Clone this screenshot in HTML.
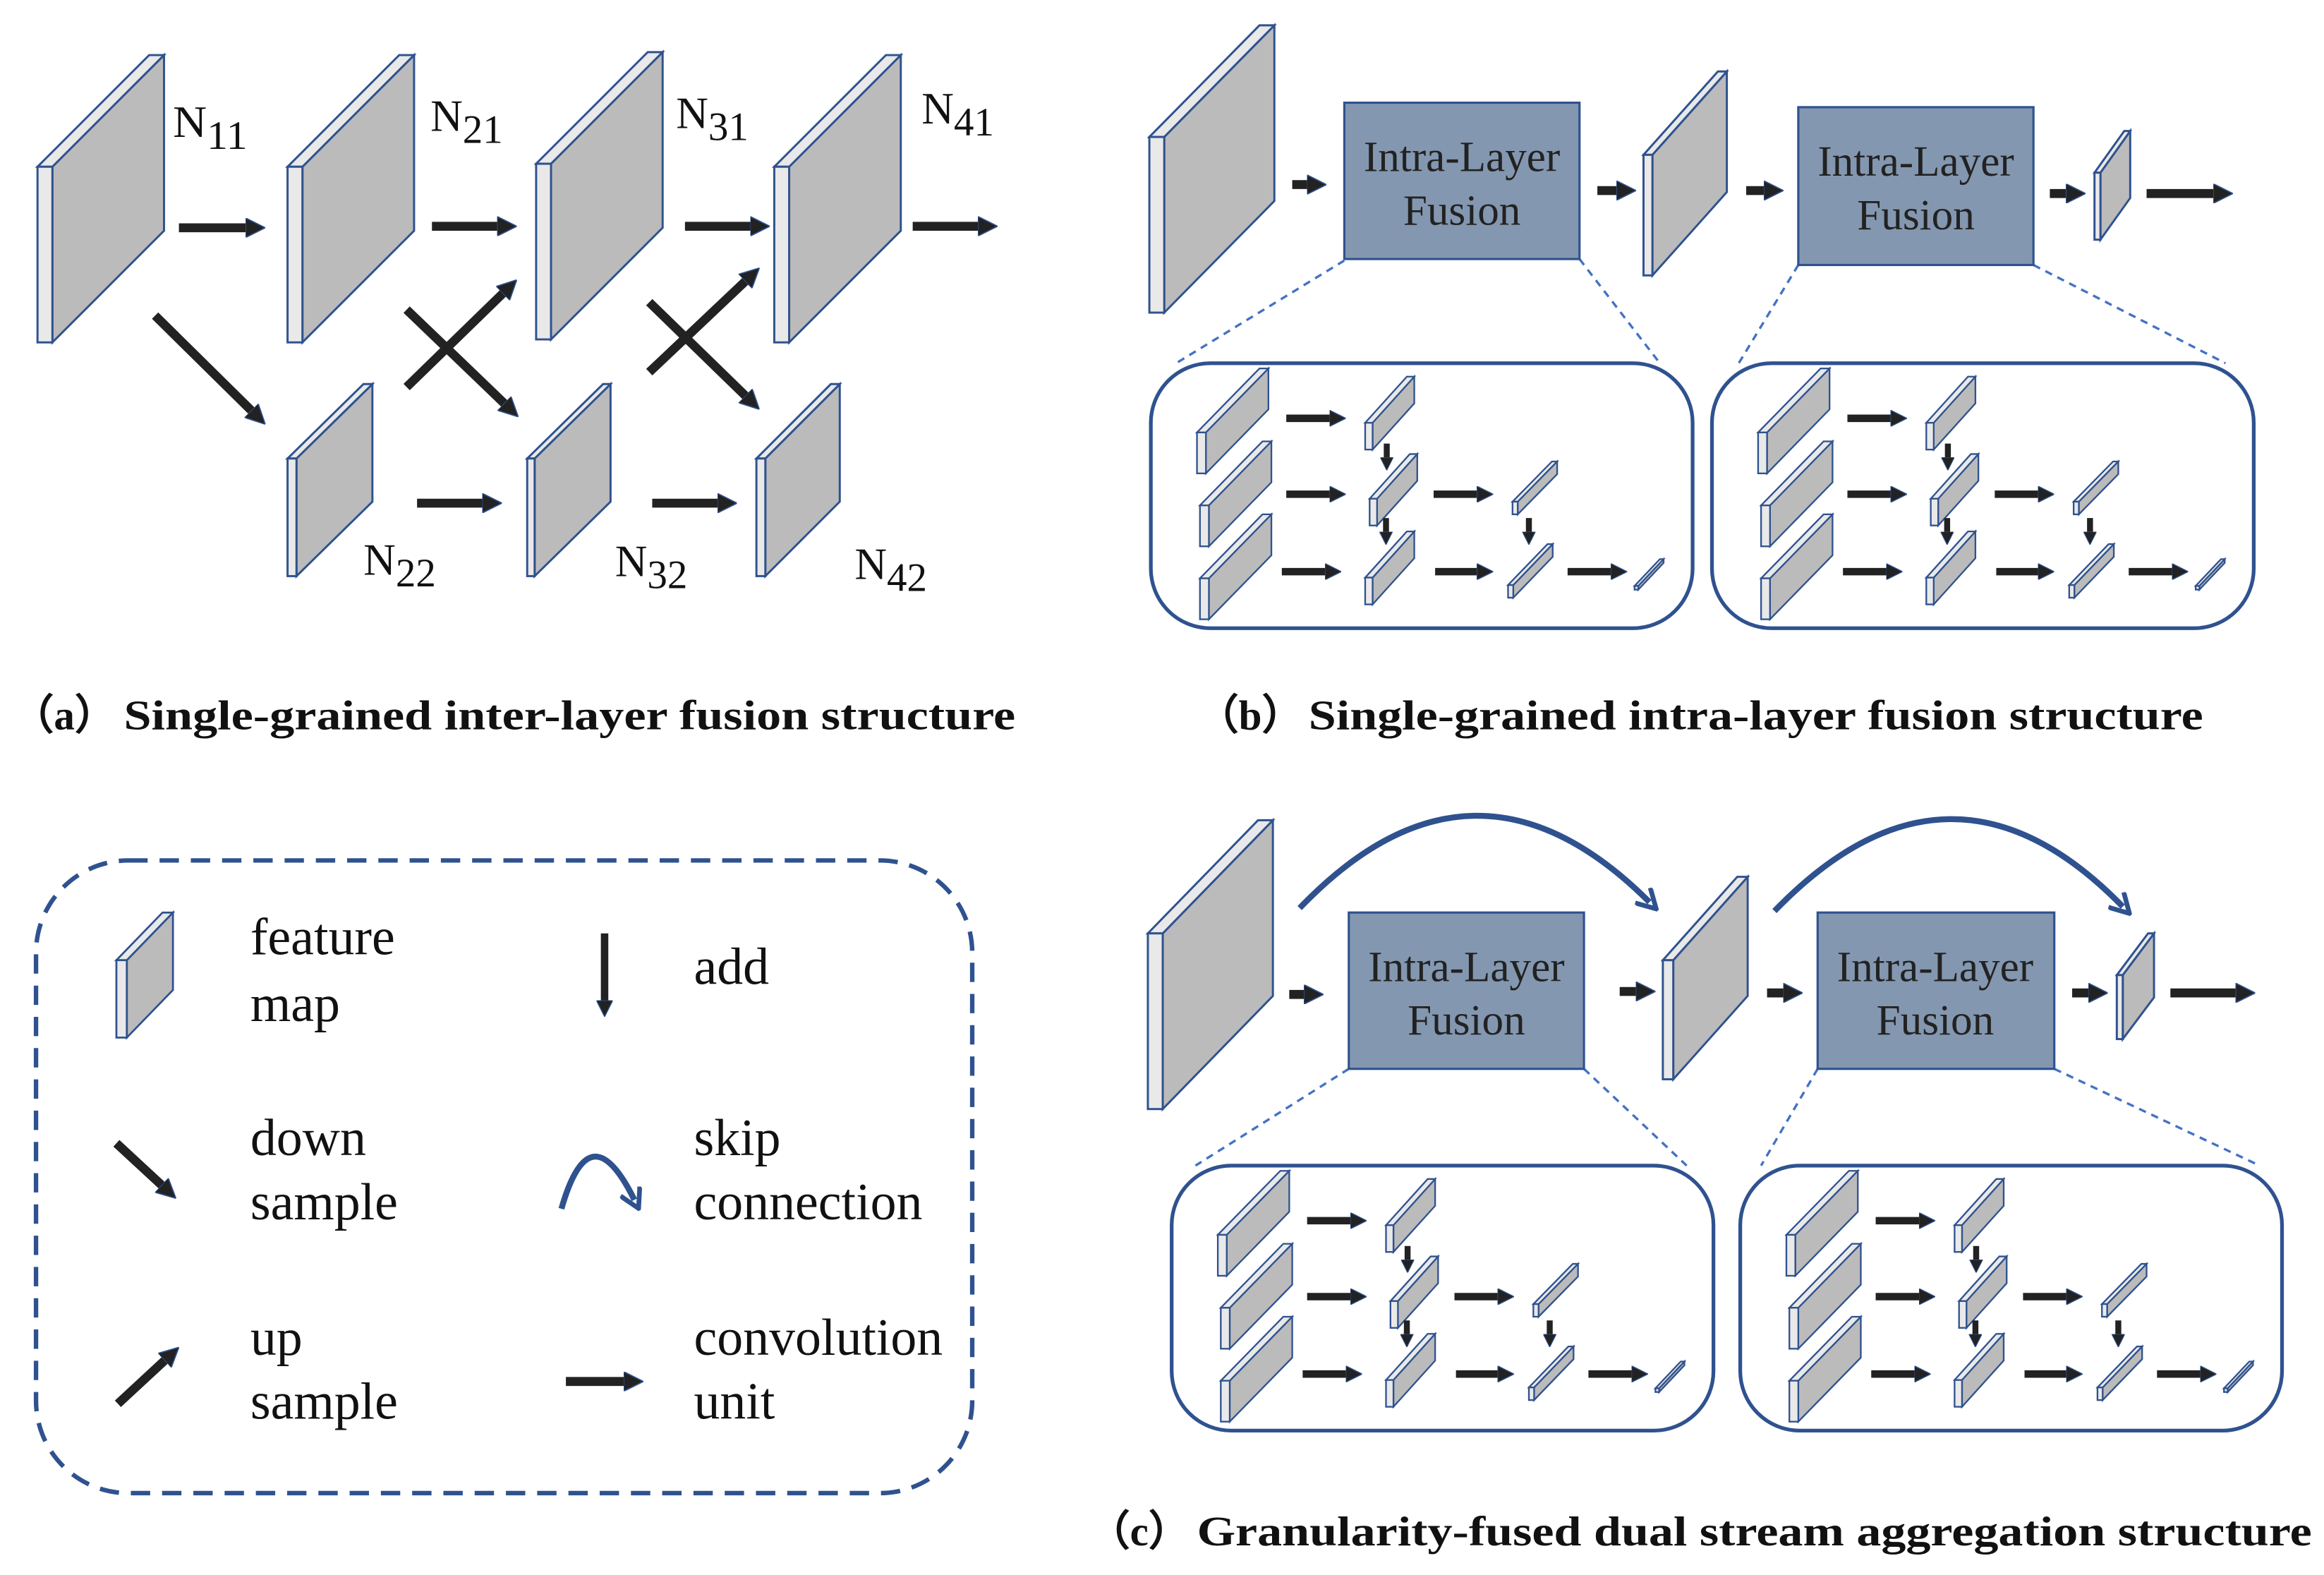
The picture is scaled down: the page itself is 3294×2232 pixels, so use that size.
<!DOCTYPE html>
<html><head><meta charset="utf-8">
<style>
html,body{margin:0;padding:0;background:#fff;}
svg{display:block;}
text{font-family:"Liberation Serif",serif;}
</style></head>
<body>
<svg id="s" xmlns="http://www.w3.org/2000/svg" width="3294" height="2232" viewBox="0 0 1561 1058">
<defs>
<marker id="ah" viewBox="0 0 10 10" refX="4" refY="5" markerWidth="2.2" markerHeight="2.2" orient="auto" markerUnits="strokeWidth">
<path d="M0,0 L10,5 L0,10 z" fill="#222" stroke="#2f528f" stroke-width="0.6"/>
</marker>
<marker id="bh" viewBox="0 0 10 10" refX="5" refY="5" markerWidth="4" markerHeight="4" orient="auto" markerUnits="strokeWidth">
<path d="M1,0.5 L9,5 L1,9.5" fill="none" stroke="#2f528f" stroke-width="2"/>
</marker>
</defs>
<rect width="1561" height="1058" fill="#fff"/>
<g id="shapes"></g>

<!-- Panel a labels -->
<g font-size="30" fill="#111">
<text x="116" y="92" textLength="50" lengthAdjust="spacingAndGlyphs">N<tspan font-size="27" dy="8">11</tspan></text>
<text x="289" y="88">N<tspan font-size="27" dy="8">21</tspan></text>
<text x="454" y="86">N<tspan font-size="27" dy="8">31</tspan></text>
<text x="619" y="83">N<tspan font-size="27" dy="8">41</tspan></text>
<text x="244" y="386">N<tspan font-size="27" dy="8">22</tspan></text>
<text x="413" y="387">N<tspan font-size="27" dy="8">32</tspan></text>
<text x="574" y="389">N<tspan font-size="27" dy="8">42</tspan></text>
</g>

<!-- Box labels -->
<g font-size="29" fill="#222" text-anchor="middle">
<text x="982" y="115">Intra-Layer</text><text x="982" y="151">Fusion</text>
<text x="1287" y="118">Intra-Layer</text><text x="1287" y="154">Fusion</text>
<text x="985" y="659">Intra-Layer</text><text x="985" y="695">Fusion</text>
<text x="1300" y="659">Intra-Layer</text><text x="1300" y="695">Fusion</text>
</g>

<!-- Captions -->
<g font-size="28" font-weight="bold" fill="#111">
<text x="8" y="490" font-family="'Liberation Serif','Noto Serif CJK SC',serif">（a）</text>
<text x="83" y="490" textLength="599" lengthAdjust="spacingAndGlyphs">Single-grained inter-layer fusion structure</text>
<text x="804" y="490" font-family="'Liberation Serif','Noto Serif CJK SC',serif">（b）</text>
<text x="879" y="490" textLength="601" lengthAdjust="spacingAndGlyphs">Single-grained intra-layer fusion structure</text>
<text x="731" y="1038" font-family="'Liberation Serif','Noto Serif CJK SC',serif">（c）</text>
<text x="804" y="1038" textLength="749" lengthAdjust="spacingAndGlyphs">Granularity-fused dual stream aggregation structure</text>
</g>

<!-- Legend text -->
<g font-size="35" fill="#111">
<text x="168" y="641">feature</text><text x="168" y="686">map</text>
<text x="466" y="661">add</text>
<text x="168" y="776">down</text><text x="168" y="819">sample</text>
<text x="466" y="776">skip</text><text x="466" y="819">connection</text>
<text x="168" y="910">up</text><text x="168" y="953">sample</text>
<text x="466" y="910">convolution</text><text x="466" y="953">unit</text>
</g>

<script>
(function(){
var NS="http://www.w3.org/2000/svg",G=document.getElementById("shapes");
function el(t,a){var e=document.createElementNS(NS,t);for(var k in a)e.setAttribute(k,a[k]);G.appendChild(e);return e;}
function P(pts){return pts.map(function(p){return p[0]+","+p[1];}).join(" ");}
function map(x,y,t,h,dx,dy,sw){sw=sw||1.4;
 var st={stroke:"#2f528f","stroke-width":sw,"stroke-linejoin":"miter"};
 function a(o){for(var k in st)o[k]=st[k];return o;}
 el("polygon",a({points:P([[x+t,y],[x+t+dx,y-dy],[x+t+dx,y-dy+h],[x+t,y+h]]),fill:"#bbbbbb"}));
 el("polygon",a({points:P([[x,y],[x+dx,y-dy],[x+t+dx,y-dy],[x+t,y]]),fill:"#e9e9e9"}));
 el("rect",a({x:x,y:y,width:t,height:h,fill:"#e9e9e9"}));
}
function ar(x1,y1,x2,y2,w){w=w||6;
 var L=Math.hypot(x2-x1,y2-y1),ext=0.6*2.2*w,ux=(x2-x1)/L,uy=(y2-y1)/L;
 el("line",{x1:x1,y1:y1,x2:x2-ux*ext,y2:y2-uy*ext,stroke:"#222","stroke-width":w,"marker-end":"url(#ah)"});
}
function dash(x1,y1,x2,y2){el("line",{x1:x1,y1:y1,x2:x2,y2:y2,stroke:"#4472c4","stroke-width":1.6,"stroke-dasharray":"5,4"});}
function box(x,y,w,h){el("rect",{x:x,y:y,width:w,height:h,fill:"#8497b0",stroke:"#2f528f","stroke-width":1.5});}
function sub(ox,oy){
 el("rect",{x:ox,y:oy,width:364,height:178,rx:40,ry:40,fill:"#fff",stroke:"#2f528f","stroke-width":2.5});
 function m(x,y,t,h,dx,dy){map(ox+x,oy+y,t,h,dx,dy,1.1);}
 m(31,46.5,6,27.5,42,43);m(33,95.5,6,27.5,42,43);m(33,144.5,6,27.5,42,43);
 m(144,40,5,18,28,31);m(147,91,5,18,27,30);m(144,144,5,18,28,31);
 m(243,93,3.5,8.5,26.5,27);m(240,149,3.5,8.5,26.5,27.5);
 m(325,149.6,2.5,2.5,17,18);
 [[91,37,131,37],[91,88,131,88],[190,88,230,88],[88,140,128,140],[191,140,230,140],[280,140,320,140]].forEach(function(a){ar(ox+a[0],oy+a[1],ox+a[2],oy+a[3],5);});
 [[158.5,54,158.5,72],[158,104,158,122],[254,104,254,122]].forEach(function(a){ar(ox+a[0],oy+a[1],ox+a[2],oy+a[3],4);});
}
map(25,112,10,118,75,75);map(193,112,10,118,75,75);map(360,110,10,118,75,75);map(520,112,10,118,75,75);
map(193,308,6,79,51,50);map(354,308,5,79,51,50);map(508,308,6,79,50,50);
ar(120,153,178,153);ar(290,152,347,152);ar(460,152,517,152);ar(613,152,670,152);
ar(280,338,337,338);ar(438,338,495,338);
ar(104,212,178,285);
ar(273,260,347,188);ar(273,208,348,280);
ar(436,250,510,180);ar(436,203,510,275);
dash(903,175,790,244);dash(1061,174,1115,244);dash(1208,178,1168,244);dash(1366,178,1495,244);
map(772,92,10,118,74,75);
ar(868,124,891,124,6);box(903,69,158,105);
ar(1073,128,1099,128,6);map(1104,104,6,81,50,56);
ar(1173,128,1198,128,6);box(1208,72,158,106);
ar(1377,130,1401,130,6);map(1407,116,4,45,20,28);
ar(1442,130,1500,130,6);
sub(773,244);sub(1150,244);
dash(906,718,803,783);dash(1064,718,1133,783);dash(1221,718,1183,783);dash(1380,718,1518,783);
map(771,627,10,118,74,76);
ar(866,668,889,668,6);box(906,613,158,105);
ar(1088,666,1112,666,6);map(1117,645,7,80,50,56);
ar(1187,667,1211,667,6);box(1221,613,159,105);
ar(1392,667,1416,667,6);map(1422,655,4,43,21,28);
ar(1458,667,1515,667,6);
sub(787,783);sub(1169,783);
el("path",{d:"M873,610 Q990,488 1108,606",fill:"none",stroke:"#2f528f","stroke-width":4,"marker-end":"url(#bh)"});
el("path",{d:"M1192,612 Q1310,490 1426,609",fill:"none",stroke:"#2f528f","stroke-width":4,"marker-end":"url(#bh)"});
el("rect",{x:24,y:578,width:629,height:425,rx:62,ry:62,fill:"none",stroke:"#2f528f","stroke-width":3,"stroke-dasharray":"13,8"});
map(78,645,7,52,31,32,1.3);
ar(406,627,406,683,5);
ar(78,768,118,805,6);
ar(79,943,120,905,6);
ar(380,928,432,928,6);
el("path",{d:"M377,812 Q396,745 426,806",fill:"none",stroke:"#2f528f","stroke-width":4,"marker-end":"url(#bh)"});
})();
</script>
</svg>
</body></html>
